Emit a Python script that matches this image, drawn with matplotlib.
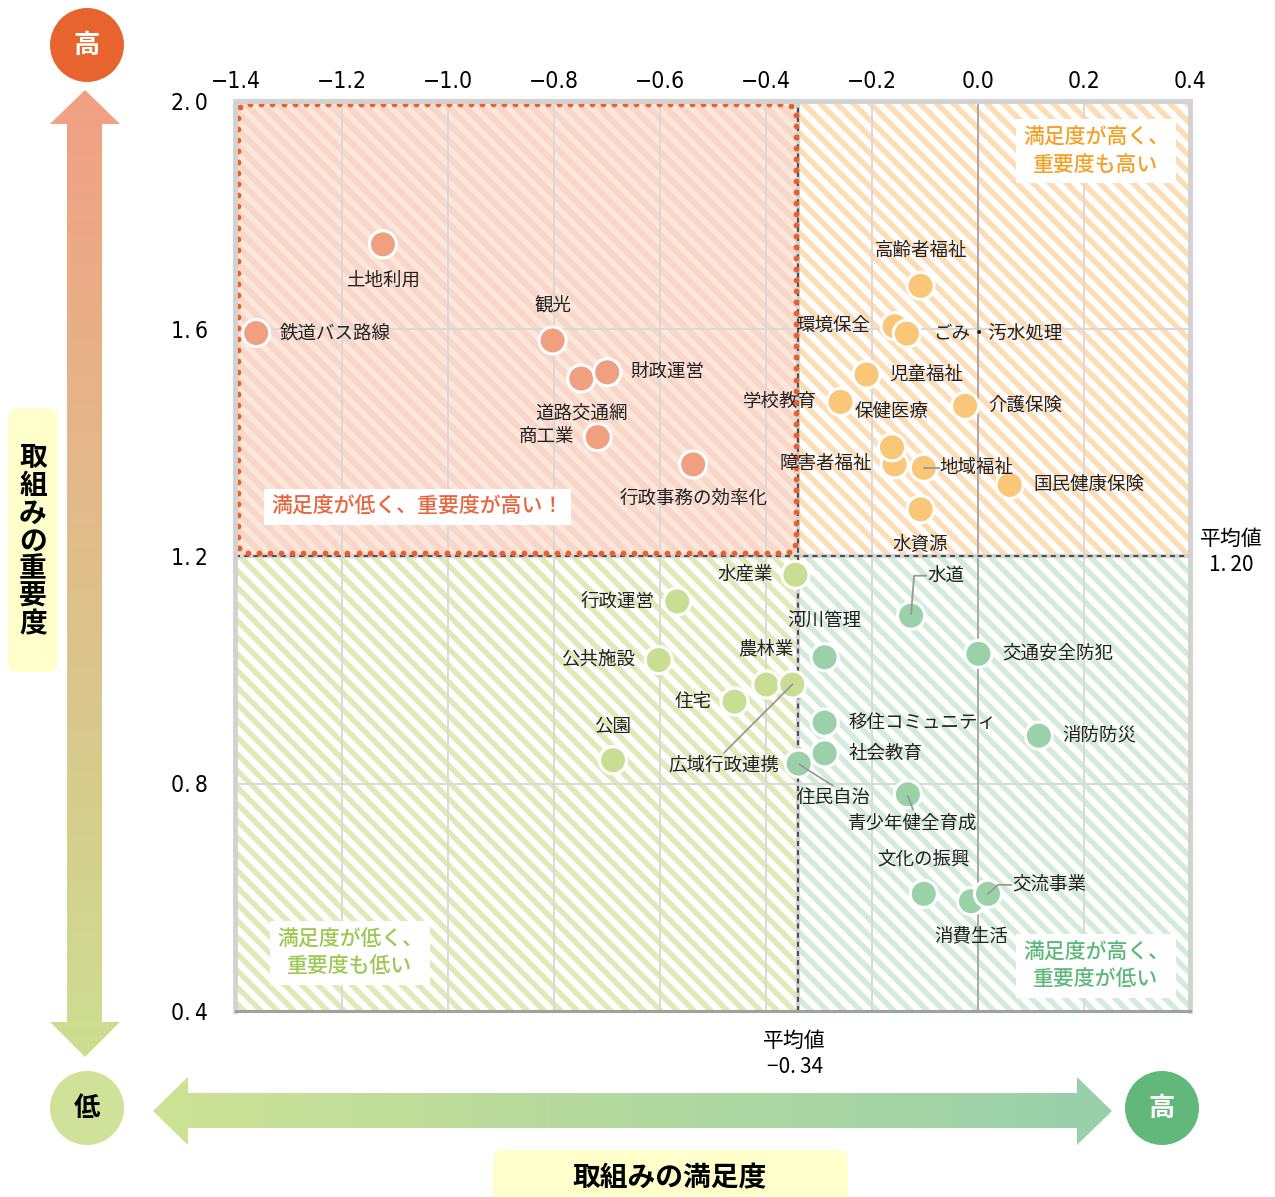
import numpy as np
import matplotlib.pyplot as plt
from matplotlib.patches import Rectangle, FancyBboxPatch, Polygon, Circle
from matplotlib.colors import LinearSegmentedColormap

plt.rcParams['font.family'] = ['Noto Sans CJK JP', 'DejaVu Sans']
plt.rcParams['hatch.linewidth'] = 4.0

# ---- data: 満足度 (x) / 重要度 (y) ----
names = ['土地利用', '鉄道バス路線', '観光', '道路交通網', '財政運営', '商工業', '行政事務の効率化',
         '高齢者福祉', '環境保全', 'ごみ・汚水処理', '児童福祉', '学校教育', '介護保険',
         '障害者福祉', '保健医療', '地域福祉', '国民健康保険', '水資源',
         '水産業', '行政運営', '公共施設', '農林業', '広域行政連携', '住宅', '公園',
         '水道', '河川管理', '交通安全防犯', '移住コミュニティ', '消防防災', '社会教育',
         '住民自治', '青少年健全育成', '文化の振興', '消費生活', '交流事業']
satisfaction = [-1.122, -1.361, -0.802, -0.748, -0.699, -0.717, -0.537,
                -0.108, -0.157, -0.134, -0.210, -0.259, -0.024,
                -0.157, -0.162, -0.102, 0.060, -0.108,
                -0.344, -0.567, -0.602, -0.399, -0.350, -0.459, -0.688,
                -0.126, -0.289, 0.001, -0.289, 0.115, -0.289,
                -0.338, -0.132, -0.102, -0.013, 0.019]
importance = [1.748, 1.592, 1.579, 1.512, 1.523, 1.409, 1.361,
              1.675, 1.604, 1.591, 1.519, 1.471, 1.464,
              1.361, 1.391, 1.355, 1.325, 1.282,
              1.167, 1.120, 1.017, 0.974, 0.974, 0.944, 0.841,
              1.095, 1.022, 1.028, 0.907, 0.884, 0.853,
              0.835, 0.781, 0.606, 0.593, 0.606]
mean_x = -0.34
mean_y = 1.20
xticks = [-1.4, -1.2, -1.0, -0.8, -0.6, -0.4, -0.2, 0.0, 0.2, 0.4]
yticks = [0.4, 0.8, 1.2, 1.6, 2.0]

# label placement: offset in pixels from point, horizontal alignment
label_pos = {
    '土地利用': (0, -36, 'center'), '鉄道バス路線': (23, 0, 'left'), '観光': (0, 35, 'center'),
    '道路交通網': (0, -35, 'center'), '財政運営': (23, 0, 'left'), '商工業': (-23, 0, 'right'),
    '行政事務の効率化': (0, -34, 'center'),
    '高齢者福祉': (0, 35, 'center'), '環境保全': (-24, 0, 'right'), 'ごみ・汚水処理': (26, 0, 'left'),
    '児童福祉': (23, 0, 'left'), '学校教育': (-24, 0, 'right'), '介護保険': (23, 0, 'left'),
    '障害者福祉': (-23, 0, 'right'), '保健医療': (0, 35, 'center'), '地域福祉': (16, 0, 'left'),
    '国民健康保険': (24, 0, 'left'), '水資源': (0, -35, 'center'),
    '水産業': (-23, 0, 'right'), '行政運営': (-23, 0, 'right'), '公共施設': (-24, 0, 'right'),
    '農林業': (0, 35, 'center'), '広域行政連携': (-68, -81, 'center'), '住宅': (-23, 0, 'right'),
    '公園': (0, 34, 'center'),
    '水道': (16, 40, 'left'), '河川管理': (0, 35, 'center'), '交通安全防犯': (24, 0, 'left'),
    '移住コミュニティ': (24, 0, 'left'), '消防防災': (23, 0, 'left'), '社会教育': (24, 0, 'left'),
    '住民自治': (35, -34, 'center'), '青少年健全育成': (5, -29, 'center'),
    '文化の振興': (0, 34, 'center'), '消費生活': (0, -35, 'center'), '交流事業': (24, 9, 'left'),
}
leaders = {
    '地域福祉': [(0, 0), (15, 0)],
    '水道': [(0, 2), (3, 40), (15, 40)],
    '広域行政連携': [(0, 0), (-68, -68)],
    '住民自治': [(1, -1), (34, -22)],
    '青少年健全育成': [(0, -2), (5, -15)],
    '交流事業': [(0, 0), (10, 9), (23, 9)],
}

fig = plt.figure(figsize=(12.75, 11.97), dpi=100)

# ---- decoration layer (pixel coordinates) ----
deco = fig.add_axes([0, 0, 1, 1])
deco.axis('off')


def gradient_shape(verts, c0, c1, horizontal):
    poly = Polygon(verts, closed=True, facecolor='none', edgecolor='none')
    deco.add_patch(poly)
    xs = [v[0] for v in verts]
    ys = [v[1] for v in verts]
    cmap = LinearSegmentedColormap.from_list('g', [c0, c1])
    grad = np.linspace(0, 1, 256)
    img = grad.reshape(1, -1) if horizontal else grad.reshape(-1, 1)
    im = deco.imshow(img, cmap=cmap, extent=(min(xs), max(xs), min(ys), max(ys)),
                     origin='lower', aspect='auto', interpolation='bilinear')
    im.set_clip_path(poly)


gradient_shape([(85, 90), (120, 124), (102, 124), (102, 1022), (120, 1022), (85, 1057),
                (50, 1022), (67, 1022), (67, 124), (50, 124)], '#F2A084', '#CCDE90', False)
gradient_shape([(153, 1111), (188, 1077), (188, 1093), (1077, 1093), (1077, 1077), (1112, 1111),
                (1077, 1145), (1077, 1128), (188, 1128), (188, 1145)], '#CDE294', '#98D0AA', True)
deco.set_xlim(0, 1275)
deco.set_ylim(1197, 0)

for (cx, cy), fc, tc, t in [((87, 45), '#E8642E', 'white', '高'),
                            ((87, 1108), '#D0E29A', 'black', '低'),
                            ((1162, 1108), '#62B87A', 'white', '高')]:
    deco.add_patch(Circle((cx, cy), 37, facecolor=fc, edgecolor='none'))
    deco.text(cx, cy, t, ha='center', va='center', fontsize=19, fontweight='bold', color=tc)

deco.add_patch(FancyBboxPatch((8, 408), 50, 264, boxstyle='round,pad=0,rounding_size=10',
                              facecolor='#FFFFCC', edgecolor='none'))
for i, ch in enumerate('取組みの重要度'):
    deco.text(33, 458 + i * 27.8, ch, ha='center', va='center', fontsize=20, fontweight='bold')
deco.add_patch(FancyBboxPatch((493, 1150), 355, 70, boxstyle='round,pad=0,rounding_size=10',
                              facecolor='#FFFFCC', edgecolor='none'))
deco.text(670, 1178, '取組みの満足度', ha='center', va='center', fontsize=20, fontweight='bold')

# ---- main chart ----
ax = fig.add_axes([235.5 / 1275, 186 / 1197, 954.5 / 1275, 910 / 1197])
ax.set_facecolor('none')
ax.set_xlim(-1.4, 0.4)
ax.set_ylim(0.4, 2.0)

quads = [((-1.4, mean_y), mean_x + 1.4, 2.0 - mean_y, '#F9D6C8', '#FCE7DD'),
         ((mean_x, mean_y), 0.4 - mean_x, 2.0 - mean_y, 'white', '#FDDDB6'),
         ((-1.4, 0.4), mean_x + 1.4, mean_y - 0.4, 'white', '#DEEBB9'),
         ((mean_x, 0.4), 0.4 - mean_x, mean_y - 0.4, 'white', '#D2ECD9')]
for xy, w, h, fc, hc in quads:
    ax.add_patch(Rectangle(xy, w, h, facecolor=fc, edgecolor=hc, linewidth=0,
                           hatch='\\\\', zorder=0))

ax.set_xticks(xticks)
ax.set_yticks(yticks)
ax.xaxis.tick_top()
ax.set_xticklabels([f'{v:.1f}'.replace('-', '\u2212') for v in xticks],
                   fontsize=16.5, family='DejaVu Sans', fontstretch='condensed')
ax.set_yticklabels([f'{v:.1f}'.replace('.', '.\u2009') for v in yticks],
                   fontsize=16.5, family='DejaVu Sans', fontstretch='condensed')
ax.tick_params(axis='x', length=0, pad=6)
ax.tick_params(axis='y', length=0, pad=20)
ax.grid(True, color='#D9D9D9', linewidth=1.4)
ax.axvline(0, color='#A6A6A6', linewidth=1.3, zorder=1.6)
for side in ['top', 'left', 'right']:
    ax.spines[side].set_color('#D2D2D2')
    ax.spines[side].set_linewidth(3.5)
ax.spines['bottom'].set_color('#A0A0A0')
ax.spines['bottom'].set_linewidth(2.2)

ax.axvline(mean_x, color='#D4D4D4', linewidth=3, zorder=1.7)
ax.axhline(mean_y, color='#D4D4D4', linewidth=3, zorder=1.7)
ax.axvline(mean_x, color='#333333', linewidth=1.2, linestyle=(0, (3, 2.5)), zorder=2)
ax.axhline(mean_y, color='#333333', linewidth=1.2, linestyle=(0, (3, 2.5)), zorder=2)

# dotted rounded frame around the priority quadrant: round dots every ~11 px
frame = FancyBboxPatch((-1.396, mean_y + 0.005), (mean_x - 0.003) + 1.396, 1.994 - mean_y - 0.005,
                       boxstyle='round,pad=0,rounding_size=0.02', mutation_aspect=0.934)
frame_pts = np.vstack(frame.get_path().to_polygons(closed_only=False))
disp = ax.transData.transform(frame_pts)
seg = np.hypot(*np.diff(disp, axis=0).T)
arc = np.concatenate([[0], np.cumsum(seg)])
step = arc[-1] / round(arc[-1] / 11.0)
s = np.arange(0, arc[-1] - step / 2, step)
dots = np.column_stack([np.interp(s, arc, disp[:, 0]), np.interp(s, arc, disp[:, 1])])
dots = ax.transData.inverted().transform(dots)
ax.plot(dots[:, 0], dots[:, 1], linestyle='none', marker='o', markersize=4.2,
        markerfacecolor='#E8602C', markeredgewidth=0, zorder=2.5)


def point_color(x, y):
    if y >= mean_y:
        return '#F0A080' if x < mean_x else '#F9C777'
    return '#CADE93' if x < mean_x else '#9AD1A9'


colors = [point_color(x, y) for x, y in zip(satisfaction, importance)]
ax.scatter(satisfaction, importance, s=380, c=colors, edgecolors='white', linewidths=2.2, zorder=4)

to_disp = ax.transData
to_data = ax.transData.inverted()
for name, x, y in zip(names, satisfaction, importance):
    dx, dy, ha = label_pos[name]
    ax.annotate(name, (x, y), xytext=(dx, dy), textcoords='offset pixels', ha=ha, va='center',
                fontsize=13.3, color='#222222', zorder=6)
    if name in leaders:
        px, py = to_disp.transform((x, y))
        pts = to_data.transform([(px + ox, py + oy) for ox, oy in leaders[name]])
        ax.plot(pts[:, 0], pts[:, 1], color='#999999', linewidth=1.3, zorder=5)

qbox = dict(boxstyle='square,pad=0.35', facecolor='white', edgecolor='none')
ax.text(0.191, 0.554, '満足度が低く、重要度が高い！', transform=ax.transAxes, ha='center', va='center',
        fontsize=15, fontweight='medium', color='#E8643C', bbox=qbox, zorder=3)
ax.text(0.9015, 0.945, '満足度が高く、\n重要度も高い', transform=ax.transAxes, ha='center', va='center',
        fontsize=15, fontweight='medium', color='#F5A023', linespacing=1.3, bbox=qbox, zorder=3)
ax.text(0.12, 0.0637, '満足度が低く、\n重要度も低い', transform=ax.transAxes, ha='center', va='center',
        fontsize=15, fontweight='medium', color='#9CC850', linespacing=1.3, bbox=qbox, zorder=3)
ax.text(0.9015, 0.0495, '満足度が高く、\n重要度が低い', transform=ax.transAxes, ha='center', va='center',
        fontsize=15, fontweight='medium', color='#5CB878', linespacing=1.3, bbox=qbox, zorder=3)

ax.annotate('平均値\n1.\u200920', xy=(1, mean_y), xycoords=('axes fraction', 'data'),
            xytext=(41, 4), textcoords='offset pixels', ha='center', va='center',
            fontsize=15, annotation_clip=False)
ax.annotate('平均値\n\u22120.\u200934', xy=(mean_x, 0), xycoords=('data', 'axes fraction'),
            xytext=(-3, -43), textcoords='offset pixels', ha='center', va='center',
            fontsize=15, annotation_clip=False)

fig.savefig('out.png', dpi=100)
